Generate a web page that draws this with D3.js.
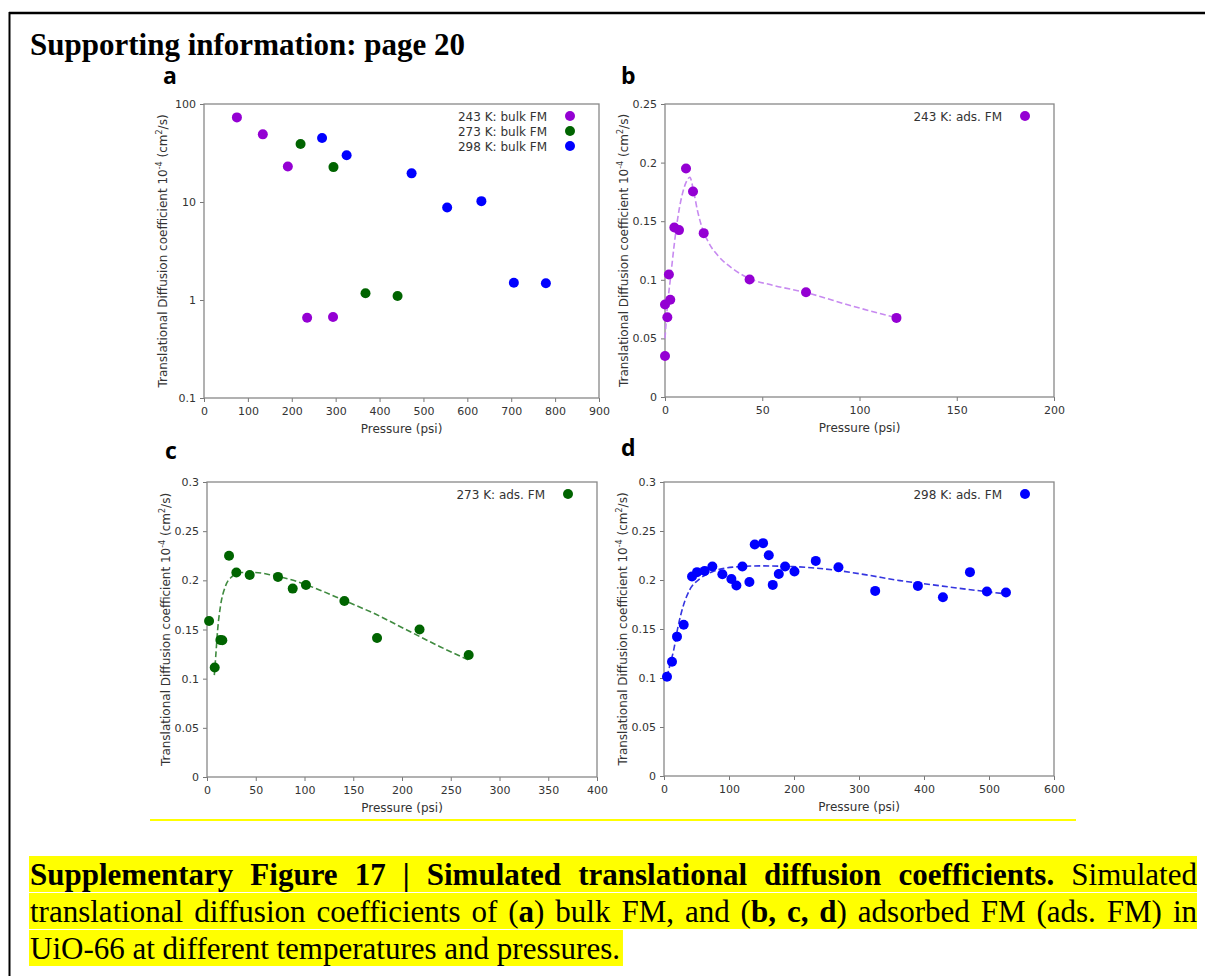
<!DOCTYPE html>
<html>
<head>
<meta charset="utf-8">
<script src="https://cdn.jsdelivr.net/npm/d3@7"></script>
<style>
  body { margin: 0; background: #fff; }
  svg { display: block; }
</style>
</head>
<body>
<script>
// Values: [pressure (psi), D (10^-4 cm^2/s)]
const bulk243 = [[75, 73], [134, 49], [191, 23], [235, 0.66], [294, 0.67]];
const bulk273 = [[220, 39], [295, 22.7], [368, 1.17], [441, 1.1]];
const bulk298 = [[269, 45], [325, 30], [473, 19.6], [554, 8.8], [632, 10.2], [706, 1.5], [779, 1.48]];

const ads243 = [[0, 0.035], [0, 0.079], [1.2, 0.068], [2, 0.1045], [2.7, 0.083], [4.8, 0.1446],
  [7.2, 0.1424], [10.8, 0.195], [14.4, 0.1754], [19.9, 0.1398], [43.5, 0.1002], [72.5, 0.0894], [119, 0.0675]];
const fit243 = [[0, 0.05], [1.2, 0.077], [2.9, 0.1025], [4.6, 0.128], [6.4, 0.151], [8.6, 0.171],
  [11, 0.1837], [12.8, 0.1875], [14.6, 0.1765], [16.7, 0.159], [19.2, 0.1438], [22.7, 0.131],
  [27.8, 0.1196], [34.7, 0.1096], [43.5, 0.101], [55.3, 0.0954], [72.5, 0.0891], [94.8, 0.0783], [119, 0.0675]];

const ads273 = [[2.1, 0.1587], [7.9, 0.1114], [13.7, 0.1393], [15.7, 0.139], [22.6, 0.225], [30.1, 0.208],
  [43.8, 0.2055], [72.8, 0.2035], [87.9, 0.1916], [101.5, 0.1953], [140.9, 0.179], [174.4, 0.1413],
  [218, 0.150], [268.4, 0.124]];
const fit273 = [[7.5, 0.1036], [8.9, 0.122], [10.9, 0.1495], [13.7, 0.173], [18.8, 0.1937], [25.6, 0.2038],
  [34.2, 0.2079], [49.6, 0.2079], [68.4, 0.2049], [92.3, 0.1988], [116, 0.190], [140.9, 0.1794],
  [171, 0.1665], [205, 0.1495], [239, 0.1325], [268.4, 0.119]];

const ads298 = [[4.6, 0.1013], [12.3, 0.1166], [20, 0.1422], [30.3, 0.1544], [43.1, 0.2035], [50.8, 0.208],
  [62.6, 0.2093], [74.4, 0.2137], [89.8, 0.2059], [103.7, 0.2011], [111.4, 0.1943], [120.6, 0.2137],
  [131.4, 0.198], [139.6, 0.2362], [152.4, 0.2376], [161.2, 0.2253], [167.3, 0.195], [176.6, 0.2062],
  [186.3, 0.2137], [200.7, 0.2086], [233.5, 0.2195], [268.4, 0.2131], [324.9, 0.1889], [390.6, 0.194],
  [429.1, 0.1824], [470.7, 0.208], [496.8, 0.1882], [526.1, 0.1872]];
const fit298 = [[4.6, 0.1013], [9.8, 0.115], [14.9, 0.1285], [21.6, 0.1524], [29.3, 0.1728], [39.5, 0.1899],
  [54.9, 0.2011], [75.4, 0.2086], [106, 0.2131], [147, 0.2144], [198.6, 0.2137], [260, 0.2103],
  [311.5, 0.2052], [363, 0.1994], [414, 0.195], [465.5, 0.1906], [526, 0.1858]];

// tick values
const xTicksA = [0, 100, 200, 300, 400, 500, 600, 700, 800, 900];
const yTicksA = [0.1, 1, 10, 100];
const xTicksB = [0, 50, 100, 150, 200];
const yTicksB = [0, 0.05, 0.1, 0.15, 0.2, 0.25];
const xTicksC = [0, 50, 100, 150, 200, 250, 300, 350, 400];
const xTicksD = [0, 100, 200, 300, 400, 500, 600];
const yTicksCD = [0, 0.05, 0.1, 0.15, 0.2, 0.25, 0.3];

const purple = '#9400d3', green = '#006400', blue = '#0000ff';
const sans = 'DejaVu Sans', serif = '"Liberation Serif", "Times New Roman", serif';

const svg = d3.select('body').append('svg')
  .attr('width', 1205)
  .attr('height', 976);

// page frame
svg.append('line').attr('x1', 9).attr('x2', 1205).attr('y1', 13).attr('y2', 13)
  .attr('stroke', '#000').attr('stroke-width', 2.5);
svg.append('line').attr('x1', 9.5).attr('x2', 9.5).attr('y1', 12).attr('y2', 976)
  .attr('stroke', '#000').attr('stroke-width', 2);

svg.append('text')
  .attr('x', 30).attr('y', 55)
  .attr('font-family', serif).attr('font-weight', 'bold').attr('font-size', 31)
  .attr('textLength', 435).attr('lengthAdjust', 'spacingAndGlyphs')
  .text('Supporting information: page 20');

const panels = [
  {
    label: 'a', labelX: 163, labelY: 84,
    box: { left: 204, top: 104, right: 599, bottom: 398 },
    x: d3.scaleLinear().domain([0, 900]), y: d3.scaleLog().domain([0.1, 100]),
    xTicks: xTicksA, yTicks: yTicksA,
    series: [
      { data: bulk243, color: purple, name: '243 K: bulk FM' },
      { data: bulk273, color: green, name: '273 K: bulk FM' },
      { data: bulk298, color: blue, name: '298 K: bulk FM' }
    ]
  },
  {
    label: 'b', labelX: 621, labelY: 84,
    box: { left: 665, top: 104, right: 1054, bottom: 397 },
    x: d3.scaleLinear().domain([0, 200]), y: d3.scaleLinear().domain([0, 0.25]),
    xTicks: xTicksB, yTicks: yTicksB,
    fit: { data: fit243, color: '#c78af0' },
    series: [{ data: ads243, color: purple, name: '243 K: ads. FM' }]
  },
  {
    label: 'c', labelX: 165, labelY: 459,
    box: { left: 207, top: 482, right: 597, bottom: 777 },
    x: d3.scaleLinear().domain([0, 400]), y: d3.scaleLinear().domain([0, 0.3]),
    xTicks: xTicksC, yTicks: yTicksCD,
    fit: { data: fit273, color: '#3f8a3f' },
    series: [{ data: ads273, color: green, name: '273 K: ads. FM' }]
  },
  {
    label: 'd', labelX: 621, labelY: 456,
    box: { left: 664, top: 482, right: 1054, bottom: 776 },
    x: d3.scaleLinear().domain([0, 600]), y: d3.scaleLinear().domain([0, 0.3]),
    xTicks: xTicksD, yTicks: yTicksCD,
    fit: { data: fit298, color: '#3535e0' },
    series: [{ data: ads298, color: blue, name: '298 K: ads. FM' }]
  }
];

panels.forEach(p => {
  const b = p.box;
  p.x.range([b.left, b.right]);
  p.y.range([b.bottom, b.top]);
  const g = svg.append('g');

  g.append('text')
    .attr('x', p.labelX).attr('y', p.labelY)
    .attr('font-family', '"Open Sans", sans-serif').attr('font-weight', 'bold').attr('font-size', 23)
    .text(p.label);

  const fmt = d3.format('~g');
  const xAxis = g.append('g')
    .attr('transform', `translate(0, ${b.bottom})`)
    .call(d3.axisBottom(p.x).tickValues(p.xTicks).tickFormat(fmt).tickSize(4).tickSizeOuter(0).tickPadding(5));
  const yAxis = g.append('g')
    .attr('transform', `translate(${b.left}, 0)`)
    .call(d3.axisLeft(p.y).tickValues(p.yTicks).tickFormat(fmt).tickSize(4).tickSizeOuter(0).tickPadding(4));
  [xAxis, yAxis].forEach(ax => {
    ax.select('.domain').remove();
    ax.selectAll('line').attr('stroke', '#777');
    ax.selectAll('text').attr('font-family', sans).attr('font-size', 11).attr('fill', '#333');
  });

  // frame
  g.append('rect')
    .attr('x', b.left).attr('y', b.top)
    .attr('width', b.right - b.left).attr('height', b.bottom - b.top)
    .attr('fill', 'none').attr('stroke', '#888').attr('stroke-width', 1.3);

  g.append('text')
    .attr('x', (b.left + b.right) / 2).attr('y', b.bottom + 35)
    .attr('text-anchor', 'middle')
    .attr('font-family', sans).attr('font-size', 12).attr('fill', '#333')
    .text('Pressure (psi)');

  const yl = g.append('text')
    .attr('transform', `translate(${b.left - 37}, ${(b.top + b.bottom) / 2}) rotate(-90)`)
    .attr('text-anchor', 'middle')
    .attr('font-family', sans).attr('font-size', 12).attr('fill', '#333');
  yl.append('tspan').text('Translational Diffusion coefficient 10');
  yl.append('tspan').attr('dy', -5).attr('font-size', 8).text('-4');
  yl.append('tspan').attr('dy', 5).text(' (cm');
  yl.append('tspan').attr('dy', -5).attr('font-size', 8).text('2');
  yl.append('tspan').attr('dy', 5).text('/s)');

  if (p.fit) {
    const line = d3.line()
      .x(d => p.x(d[0]))
      .y(d => p.y(d[1]))
      .curve(d3.curveMonotoneX);
    g.append('path')
      .datum(p.fit.data)
      .attr('fill', 'none')
      .attr('stroke', p.fit.color)
      .attr('stroke-width', 1.6)
      .attr('stroke-dasharray', '6,3')
      .attr('d', line);
  }

  p.series.forEach((s, i) => {
    g.append('g').selectAll('circle')
      .data(s.data)
      .join('circle')
      .attr('cx', d => p.x(d[0]))
      .attr('cy', d => p.y(d[1]))
      .attr('r', 5)
      .attr('fill', s.color);

    // legend
    const ly = b.top + 12 + i * 15;
    g.append('text')
      .attr('x', b.right - 52).attr('y', ly + 4.5)
      .attr('text-anchor', 'end')
      .attr('font-family', sans).attr('font-size', 12).attr('fill', '#333')
      .text(s.name);
    g.append('circle')
      .attr('cx', b.right - 29).attr('cy', ly)
      .attr('r', 5).attr('fill', s.color);
  });
});

// yellow rule under the figure
svg.append('line').attr('x1', 150).attr('x2', 1076).attr('y1', 820).attr('y2', 820)
  .attr('stroke', '#ffff00').attr('stroke-width', 2);

// caption, justified line by line; **...** marks bold
const captionLines = [
  '**Supplementary Figure 17 | Simulated translational diffusion coefficients.** Simulated',
  'translational diffusion coefficients of (**a**) bulk FM, and (**b, c, d**) adsorbed FM (ads. FM) in',
  'UiO-66 at different temperatures and pressures.'
];
const capLeft = 30, capRight = 1197, capSize = 31;
const baselines = [885, 922, 959];

const toWords = str => {
  const words = [[]];
  str.split('**').forEach((s, i) => {
    s.split(/( )/).forEach(part => {
      if (part === ' ') words.push([]);
      else if (part) words[words.length - 1].push({ s: part, bold: i % 2 === 1 });
    });
  });
  return words.filter(w => w.length);
};

const capG = svg.append('g');
captionLines.forEach((str, li) => {
  const last = li === captionLines.length - 1;
  const bg = capG.append('rect').attr('fill', '#ffff00');
  const words = toWords(str).map(w => {
    const t = capG.append('text')
      .attr('y', baselines[li])
      .attr('font-family', serif).attr('font-size', capSize);
    w.forEach(r => t.append('tspan').attr('font-weight', r.bold ? 'bold' : 'normal').text(r.s));
    return { t, w: t.node().getComputedTextLength() };
  });
  const total = d3.sum(words, d => d.w);
  const gap = last ? capSize * 0.25 : (capRight - capLeft - total) / (words.length - 1);
  let x = capLeft;
  words.forEach(d => {
    d.t.attr('x', x);
    x += d.w + gap;
  });
  const end = last ? x - gap + 3 : capRight;
  bg.attr('x', capLeft - 1).attr('y', baselines[li] - 29)
    .attr('width', end - capLeft + 1).attr('height', 36);
});
</script>
</body>
</html>
